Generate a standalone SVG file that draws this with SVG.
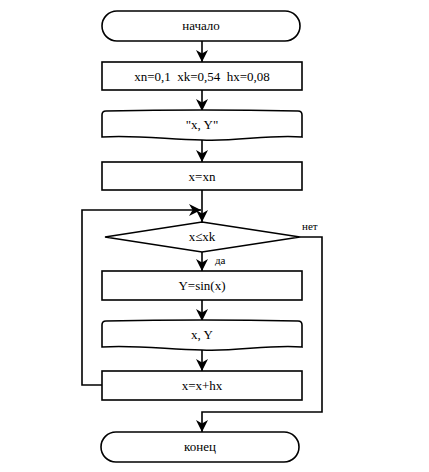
<svg xmlns="http://www.w3.org/2000/svg" width="429" height="472" viewBox="0 0 429 472">
<defs>
<style>
.s{fill:#fff;stroke:#000;stroke-width:1.6}
.c{fill:none;stroke:#000;stroke-width:1.6}
.t{font-family:"Liberation Serif","Times New Roman",serif;font-size:13px;fill:#000;text-anchor:middle}
.l{font-family:"Liberation Serif","Times New Roman",serif;font-size:11px;fill:#000}
</style>
<marker id="a" markerWidth="12" markerHeight="12" refX="10" refY="5" orient="auto" markerUnits="userSpaceOnUse" viewBox="0 0 10 10">
<path d="M0,0 L10,5 L0,10 L3,5 z" fill="#000"/>
</marker>
</defs>
<rect width="429" height="472" fill="#fff"/>
<g id="connectors">
<path class="c" d="M202,41 V62" marker-end="url(#a)"/>
<path class="c" d="M202,90 V111" marker-end="url(#a)"/>
<path class="c" d="M202,139 V162" marker-end="url(#a)"/>
<path class="c" d="M202,190 V222" marker-end="url(#a)"/>
<path class="c" d="M102,385 H82 V210 H201" marker-end="url(#a)"/>
<path class="c" d="M202,252 V271" marker-end="url(#a)"/>
<path class="c" d="M202,300 V321" marker-end="url(#a)"/>
<path class="c" d="M202,350 V371" marker-end="url(#a)"/>
<path class="c" d="M300,237 H322 V412 H202 V432" marker-end="url(#a)"/>
<text class="l" x="215" y="264">да</text>
<text class="l" x="302" y="230">нет</text>
</g>
<g id="start">
<rect class="s" x="102" y="11" width="198" height="30" rx="15" ry="15"/>
<text class="t" x="201" y="30">начало</text>
</g>
<g id="init">
<rect class="s" x="102" y="62" width="200" height="28"/>
<text class="t" x="202" y="81" xml:space="preserve">xn=0,1  xk=0,54  hx=0,08</text>
</g>
<g id="header">
<path class="s" d="M102,115 Q102,111 106,111 Q202,109 298,111 Q302,111 302,115 L302,137 C270,134 235,142 202,140 C165,139 135,135 102,137 Z"/>
<text class="t" x="202" y="129">"x, Y"</text>
</g>
<g id="xinit">
<rect class="s" x="102" y="162" width="200" height="28"/>
<text class="t" x="202" y="181">x=xn</text>
</g>
<g id="cond">
<path class="s" d="M202,222 L300,237 L202,252 L105,237 Z"/>
<text class="t" x="202" y="241">x≤xk</text>
</g>
<g id="calc">
<rect class="s" x="102" y="271" width="200" height="29"/>
<text class="t" x="202" y="290">Y=sin(x)</text>
</g>
<g id="out">
<path class="s" d="M102,325 Q102,321 106,321 Q202,319 298,321 Q302,321 302,325 L302,347 C270,344 235,352 202,350 C165,349 135,345 102,347 Z"/>
<text class="t" x="202" y="339">x, Y</text>
</g>
<g id="step">
<rect class="s" x="102" y="371" width="200" height="29"/>
<text class="t" x="202" y="390">x=x+hx</text>
</g>
<g id="end">
<rect class="s" x="101" y="432" width="198" height="30" rx="15" ry="15"/>
<text class="t" x="200" y="451">конец</text>
</g>
</svg>
